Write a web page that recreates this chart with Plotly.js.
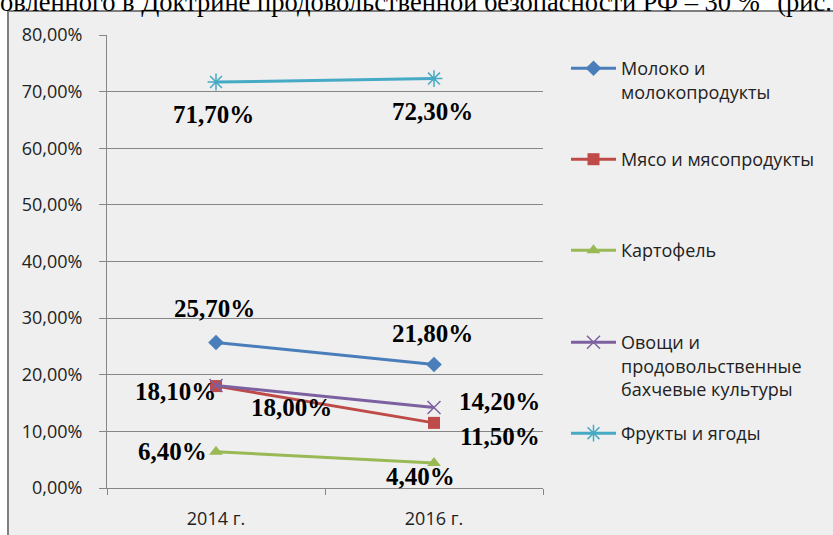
<!DOCTYPE html>
<html><head><meta charset="utf-8">
<script src="https://cdn.plot.ly/plotly-3.0.1.min.js"></script>
<style>html,body{margin:0;padding:0;background:#fff;overflow:hidden}</style>
</head><body><div id="chart" style="width:833px;height:535px"></div>
<script>
// ---- data ----
const years = ['2014 г.', '2016 г.'];
const seriesNames = ['Молоко и<br>молокопродукты', 'Мясо и мясопродукты', 'Картофель', 'Овощи и<br>продовольственные<br>бахчевые культуры', 'Фрукты и ягоды'];
const milk = [0.257, 0.218];
const meat = [0.180, 0.115];
const potato = [0.064, 0.044];
const veg = [0.181, 0.142];
const fruit = [0.717, 0.723];
const yTicks = [0, 0.1, 0.2, 0.3, 0.4, 0.5, 0.6, 0.7, 0.8];
const headerText = 'овленного в Доктрине продовольственной безопасности РФ – 30 %" (рис. 1';

// ---- styles ----
const series = [milk, meat, potato, veg, fruit];
const colors = ['#4A7EBB', '#BE4B48', '#98B954', '#7D60A0', '#46AAC5'];
const symbols = ['diamond', 'square', 'triangle-up', 'x-thin-open', 'asterisk-open'];
const msizes = [12, 12, 12, 13, 14];
const legendIds = ['legend', 'legend2', 'legend3', 'legend4', 'legend5'];
// label offsets in px (dx right, dy down) per series per point
const labelOff = [
  [[-2, -34], [-2, -31]],
  [[75, 21], [66, 14]],
  [[-44, 0], [-14, 13]],
  [[-41, 6], [65, -6]],
  [[-3, 32], [-2, 33]]
];
const legendTopPx = [50, 141, 232, 324, 415];

const W = 833, H = 535;
const mL = 107, mR = 290, mT = 35, mB = 47;
const pw = W - mL - mR, ph = H - mT - mB;
const px2x = p => (p - mL) / pw;
const py2y = p => (H - mB - p) / ph;

const traces = series.map((vals, i) => ({
  type: 'scatter', mode: 'lines+markers',
  x: years, y: vals, name: seriesNames[i],
  legend: legendIds[i],
  line: {color: colors[i], width: 3},
  marker: {symbol: symbols[i], size: msizes[i], color: colors[i],
           line: {color: colors[i], width: (i >= 3 ? 1.5 : 0)}},
  hoverinfo: 'skip'
}));

const fmt = v => (v * 100).toFixed(2).replace('.', ',') + '%';
const annotations = [];
series.forEach((vals, i) => {
  vals.forEach((v, j) => {
    annotations.push({
      x: years[j], y: v, xref: 'x', yref: 'y', text: fmt(v), showarrow: false,
      xanchor: 'center', yanchor: 'middle',
      xshift: labelOff[i][j][0], yshift: -labelOff[i][j][1],
      font: {family: 'Liberation Serif, Times New Roman, serif', size: 25, color: '#000', weight: 'bold'}
    });
  });
});
annotations.push({
  xref: 'paper', yref: 'paper', x: px2x(-2), y: py2y(19), xanchor: 'left', yanchor: 'bottom',
  text: headerText, showarrow: false,
  font: {family: 'Liberation Serif, Times New Roman, serif', size: 26.5, color: '#000'}
});

const tickFont = {family: 'Open Sans, sans-serif', size: 18, color: '#222'};
const layout = {
  width: W, height: H,
  margin: {l: mL, r: mR, t: mT, b: mB, pad: 0},
  paper_bgcolor: '#ffffff', plot_bgcolor: 'rgba(0,0,0,0)',
  separators: ', ',
  showlegend: true,
  xaxis: {type: 'category', range: [-0.5, 1.5], tickson: 'boundaries', ticks: 'outside', ticklen: 6,
    tickcolor: '#868686', showline: true, linecolor: '#868686', linewidth: 1, showgrid: false,
    tickfont: tickFont, ticklabelstandoff: 14, fixedrange: true, zeroline: false},
  yaxis: {range: [0, 0.8], tickvals: yTicks, tickformat: '.2%', ticks: 'outside', ticklen: 7,
    tickcolor: '#868686', showline: true, linecolor: '#868686', linewidth: 1,
    showgrid: true, gridcolor: '#868686', gridwidth: 1, zeroline: false,
    tickfont: tickFont, ticklabelstandoff: 13, fixedrange: true},
  shapes: [{type: 'rect', xref: 'paper', yref: 'paper', layer: 'below',
    x0: px2x(8), x1: px2x(860), y0: py2y(560), y1: py2y(11),
    fillcolor: '#efefef', line: {color: '#7f7f7f', width: 2}}],
  annotations: annotations
};
legendIds.forEach((id, i) => {
  layout[id] = {x: px2x(566), y: py2y(legendTopPx[i]), xanchor: 'left', yanchor: 'top',
    bgcolor: 'rgba(0,0,0,0)', borderwidth: 0, valign: 'top', itemwidth: 45,
    font: {family: 'Open Sans, sans-serif', size: 18, color: '#222'}};
});

Plotly.newPlot('chart', traces, layout, {staticPlot: true, displayModeBar: false});
</script></body></html>
